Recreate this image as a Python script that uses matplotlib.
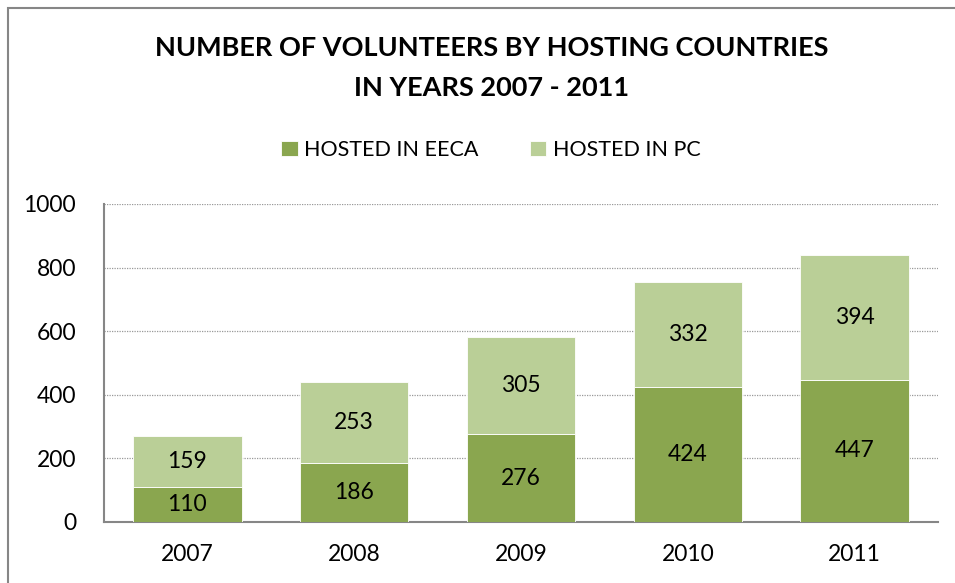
import matplotlib.pyplot as plt
import matplotlib.patches as mpatches
import numpy as np

plt.rcParams['font.family'] = ['Lato', 'DejaVu Sans']

# data
years = ['2007', '2008', '2009', '2010', '2011']
hosted_eeca = [110, 186, 276, 424, 447]
hosted_pc = [159, 253, 305, 332, 394]

dark = '#8AA64F'
light = '#BACF97'

fig = plt.figure(figsize=(9.55, 5.83), dpi=100)
ax = fig.add_axes([104 / 955, 1 - 522 / 583, 834 / 955, 318 / 583])

x = np.arange(len(years))
b1 = ax.bar(x, hosted_eeca, width=0.65, color=dark, edgecolor='white', linewidth=0.6,
            label='HOSTED IN EECA', zorder=3)
b2 = ax.bar(x, hosted_pc, width=0.65, bottom=hosted_eeca, color=light, edgecolor='white',
            linewidth=0.6, label='HOSTED IN PC', zorder=3)

ax.bar_label(b1, label_type='center', fontsize=16.5)
ax.bar_label(b2, label_type='center', fontsize=16.5)

ax.set_xlim(-0.5, len(years) - 0.5)
ax.set_ylim(0, 1000)
ax.set_yticks(range(0, 1001, 200))
ax.set_xticks(x)
ax.set_xticklabels(years)
ax.tick_params(axis='both', length=0, labelsize=16.5)
ax.tick_params(axis='x', pad=16)
ax.tick_params(axis='y', pad=20)
ax.yaxis.grid(True, linestyle=(0, (1, 1)), color='#999999', linewidth=0.9, zorder=0)

for s in ['top', 'right']:
    ax.spines[s].set_visible(False)
for s in ['left', 'bottom']:
    ax.spines[s].set_color('#868686')
    ax.spines[s].set_linewidth(1.5)

fig.text(0.515, 1 - 48 / 583, 'NUMBER OF VOLUNTEERS BY HOSTING COUNTRIES',
         ha='center', va='center', fontsize=19.5, fontweight='bold')
fig.text(0.515, 1 - 88 / 583, 'IN YEARS 2007 - 2011',
         ha='center', va='center', fontsize=19.5, fontweight='bold')

fig.legend(handles=[b1, b2], loc='center', bbox_to_anchor=(0.514, 1 - 150 / 583),
           ncol=2, frameon=False, fontsize=15.5, handlelength=0.75, handleheight=0.75,
           columnspacing=2.4, handletextpad=0.3)

# chart border
fig.patches.append(mpatches.Rectangle((8 / 955, -0.1), 1.2, 1.1 - 8 / 583,
                                      transform=fig.transFigure, fill=False,
                                      edgecolor='#868686', linewidth=1.5))

fig.savefig('out.png', dpi=100)
